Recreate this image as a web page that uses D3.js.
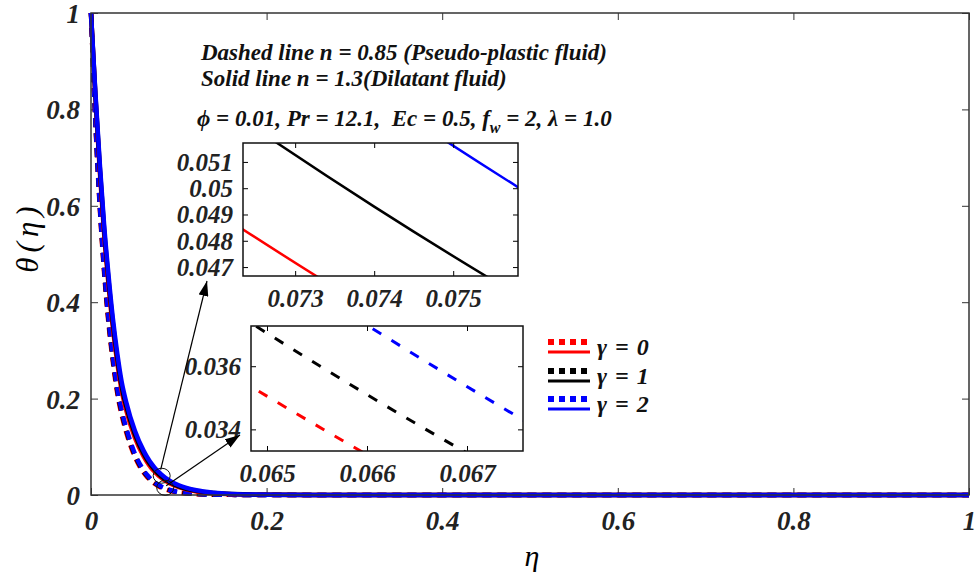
<!DOCTYPE html>
<html>
<head>
<meta charset="utf-8">
<script src="https://cdn.jsdelivr.net/npm/d3@7/dist/d3.min.js"></script>
<style>
  body { margin: 0; background: #fff; }
  .lbl { font-weight: bold; font-style: italic; fill: #222; }
</style>
</head>
<body>
<svg id="chart" width="978" height="579"></svg>
<script>
// eta grid shared by all curves
const eta = [0, 0.005, 0.01, 0.015, 0.02, 0.025, 0.03, 0.035, 0.04, 0.05, 0.06,
  0.064, 0.066, 0.068, 0.072, 0.074, 0.076, 0.08, 0.09, 0.1, 0.12, 0.14, 0.16,
  0.2, 0.3, 0.5, 1.0];

// solid lines, n = 1.3
const solidG0 = [1, 0.825, 0.672, 0.541, 0.435, 0.345, 0.2735, 0.216, 0.1767, 0.119, 0.0799,
  0.0677, 0.0624, 0.0576, 0.0491, 0.0453, 0.0418, 0.0356, 0.0237, 0.0161, 0.0074, 0.0034, 0.0016,
  0.0004, 0.0001, 0, 0];
const solidG1 = [1, 0.83, 0.68, 0.55, 0.445, 0.355, 0.283, 0.225, 0.185, 0.126, 0.0855,
  0.0728, 0.0673, 0.0622, 0.0533, 0.0493, 0.0456, 0.039, 0.0263, 0.018, 0.0085, 0.004, 0.0019,
  0.0005, 0.0001, 0, 0];
const solidG2 = [1, 0.835, 0.688, 0.559, 0.455, 0.365, 0.293, 0.234, 0.1935, 0.1333, 0.0915,
  0.0783, 0.0725, 0.0672, 0.0578, 0.0536, 0.0497, 0.0427, 0.0291, 0.0202, 0.0097, 0.0047, 0.0023,
  0.0006, 0.0001, 0, 0];

// dashed lines, n = 0.85
const dashG0 = [1, 0.772, 0.595, 0.459, 0.354, 0.274, 0.2095, 0.165, 0.1304, 0.0786, 0.0461,
  0.037, 0.0332, 0.0297, 0.0239, 0.0214, 0.0191, 0.0153, 0.0089, 0.0052, 0.0018, 0.0006, 0.0003,
  0, 0, 0, 0];
const dashG1 = [1, 0.775, 0.6, 0.465, 0.36, 0.28, 0.215, 0.17, 0.135, 0.082, 0.0485,
  0.0391, 0.0351, 0.0315, 0.0254, 0.0228, 0.0204, 0.0164, 0.0096, 0.0057, 0.002, 0.0007, 0.0003,
  0, 0, 0, 0];
const dashG2 = [1, 0.779, 0.605, 0.471, 0.367, 0.2865, 0.221, 0.1755, 0.14, 0.0858, 0.0512,
  0.0414, 0.0373, 0.0335, 0.0271, 0.0244, 0.0219, 0.0176, 0.0104, 0.0062, 0.0022, 0.0008, 0.0003,
  0.0001, 0, 0, 0];

const gammaLabels = ["γ = 0", "γ = 1", "γ = 2"];
const colors = ["#ff0000", "#000000", "#0000ff"];

const xTicks = [0, 0.2, 0.4, 0.6, 0.8, 1];
const xTickLabels = ["0", "0.2", "0.4", "0.6", "0.8", "1"];
const yTicks = [0, 0.2, 0.4, 0.6, 0.8, 1];
const yTickLabels = ["0", "0.2", "0.4", "0.6", "0.8", "1"];

const inset1XTicks = [0.073, 0.074, 0.075];
const inset1YTicks = [0.047, 0.048, 0.049, 0.05, 0.051];
const inset1YLabels = ["0.047", "0.048", "0.049", "0.05", "0.051"];
const inset2XTicks = [0.065, 0.066, 0.067];
const inset2YTicks = [0.034, 0.036];

const FONT = "Liberation Serif";

const svg = d3.select("#chart").attr("font-family", FONT);

// main plot box
const margin = {left: 91, top: 13, right: 969, bottom: 495};
const x = d3.scaleLinear().domain([0, 1]).range([margin.left, margin.right]);
const y = d3.scaleLinear().domain([0, 1]).range([margin.bottom, margin.top]);

const dashed = [dashG0, dashG1, dashG2];
const solid = [solidG0, solidG1, solidG2];

function drawLines(g, xs, ys, width, dash) {
  const line = d3.line()
    .x((d, i) => xs(eta[i]))
    .y(d => ys(d))
    .curve(d3.curveMonotoneX);
  dashed.forEach((vals, k) => {
    g.append("path").attr("d", line(vals)).attr("fill", "none")
      .attr("stroke", colors[k]).attr("stroke-width", width)
      .attr("stroke-dasharray", dash);
  });
  solid.forEach((vals, k) => {
    g.append("path").attr("d", line(vals)).attr("fill", "none")
      .attr("stroke", colors[k]).attr("stroke-width", width);
  });
}

// x axis
const xAxis = svg.append("g")
  .attr("transform", "translate(0," + margin.bottom + ")")
  .call(d3.axisBottom(x).tickValues(xTicks).tickSize(-7)
    .tickFormat((d, i) => xTickLabels[i]));
xAxis.attr("font-family", FONT);
xAxis.select(".domain").remove();
xAxis.selectAll("line").attr("stroke", "#333");
xAxis.selectAll("text").attr("class", "lbl").attr("y", 35).attr("dy", null)
  .attr("font-size", 27);

// mirrored ticks on top
svg.append("g")
  .attr("transform", "translate(0," + margin.top + ")")
  .call(d3.axisTop(x).tickValues(xTicks).tickSize(-7).tickFormat(""))
  .call(g => g.select(".domain").remove())
  .selectAll("line").attr("stroke", "#333");

// y axis
const yAxis = svg.append("g")
  .attr("transform", "translate(" + margin.left + ",0)")
  .call(d3.axisLeft(y).tickValues(yTicks).tickSize(-7).tickPadding(11)
    .tickFormat((d, i) => yTickLabels[i]));
yAxis.attr("font-family", FONT);
yAxis.select(".domain").remove();
yAxis.selectAll("line").attr("stroke", "#333");
yAxis.selectAll("text").attr("class", "lbl").attr("dy", "0.35em")
  .attr("font-size", 27);

svg.append("g")
  .attr("transform", "translate(" + margin.right + ",0)")
  .call(d3.axisRight(y).tickValues(yTicks).tickSize(-7).tickFormat(""))
  .call(g => g.select(".domain").remove())
  .selectAll("line").attr("stroke", "#333");

// curves
const mainG = svg.append("g");
drawLines(mainG, x, y, 4.5, "9,6");

// frame
svg.append("rect")
  .attr("x", margin.left).attr("y", margin.top)
  .attr("width", margin.right - margin.left).attr("height", margin.bottom - margin.top)
  .attr("fill", "none").attr("stroke", "#333").attr("stroke-width", 1.5);

// axis titles
svg.append("text").attr("x", 532).attr("y", 566).attr("text-anchor", "middle")
  .attr("font-style", "italic").attr("font-size", 30).text("η");
svg.append("text").attr("transform", "translate(38,237) rotate(-90)")
  .attr("text-anchor", "middle").attr("font-style", "italic")
  .attr("font-size", 31).attr("letter-spacing", 5).text("θ(η)");

// annotation text
const note = svg.append("g").attr("class", "lbl").attr("font-size", 23).style("fill", "#111");
note.append("text").attr("x", 201).attr("y", 60).text("Dashed line n = 0.85 (Pseudo-plastic fluid)");
note.append("text").attr("x", 201).attr("y", 86).text("Solid line n = 1.3(Dilatant fluid)");
const t3 = note.append("text").attr("x", 197).attr("y", 126).attr("xml:space", "preserve");
t3.append("tspan").text("ϕ = 0.01, Pr = 12.1,  Ec = 0.5, f");
t3.append("tspan").attr("dy", 7).attr("font-size", 16).text("w");
t3.append("tspan").attr("dy", -7).text(" = 2, λ = 1.0");

// insets
function drawInset(id, box, xDom, yDom, xT, yT, yLabels, useDash) {
  const xs = d3.scaleLinear().domain(xDom).range([box.x0, box.x1]);
  const ys = d3.scaleLinear().domain(yDom).range([box.y1, box.y0]);
  const g = svg.append("g");
  g.append("rect").attr("x", box.x0).attr("y", box.y0)
    .attr("width", box.x1 - box.x0).attr("height", box.y1 - box.y0).attr("fill", "#fff");
  svg.append("clipPath").attr("id", id).append("rect")
    .attr("x", box.x0).attr("y", box.y0)
    .attr("width", box.x1 - box.x0).attr("height", box.y1 - box.y0);
  const lg = g.append("g").attr("clip-path", "url(#" + id + ")");
  const line = d3.line().x((d, i) => xs(eta[i])).y(d => ys(d)).curve(d3.curveMonotoneX);
  const sets = useDash ? dashed : solid;
  sets.forEach((vals, k) => {
    lg.append("path").attr("d", line(vals)).attr("fill", "none")
      .attr("stroke", colors[k]).attr("stroke-width", useDash ? 3 : 2.5)
      .attr("stroke-dasharray", useDash ? "10,12" : null);
  });
  const bx = g.append("g").attr("transform", "translate(0," + box.y1 + ")")
    .call(d3.axisBottom(xs).tickValues(xT).tickSize(-5).tickFormat(d3.format(".3f")));
  bx.attr("font-family", FONT);
  bx.select(".domain").remove();
  bx.selectAll("text").attr("class", "lbl").attr("y", 31).attr("dy", null).attr("font-size", 25);
  g.append("g").attr("transform", "translate(0," + box.y0 + ")")
    .call(d3.axisTop(xs).tickValues(xT).tickSize(-5).tickFormat(""))
    .select(".domain").remove();
  const ly = g.append("g").attr("transform", "translate(" + box.x0 + ",0)")
    .call(d3.axisLeft(ys).tickValues(yT).tickSize(-5).tickPadding(10)
      .tickFormat((d, i) => yLabels ? yLabels[i] : d3.format(".3f")(d)));
  ly.attr("font-family", FONT);
  ly.select(".domain").remove();
  ly.selectAll("text").attr("class", "lbl").attr("dy", "0.33em").attr("font-size", 25);
  g.append("g").attr("transform", "translate(" + box.x1 + ",0)")
    .call(d3.axisRight(ys).tickValues(yT).tickSize(-5).tickFormat(""))
    .select(".domain").remove();
  g.append("rect").attr("x", box.x0).attr("y", box.y0)
    .attr("width", box.x1 - box.x0).attr("height", box.y1 - box.y0)
    .attr("fill", "none").attr("stroke", "#111").attr("stroke-width", 1.5);
}

drawInset("clip1", {x0: 243, x1: 518, y0: 143, y1: 276},
  [0.07234, 0.07582], [0.04666, 0.05172], inset1XTicks, inset1YTicks, inset1YLabels, false);
drawInset("clip2", {x0: 251, x1: 523, y0: 326, y1: 451},
  [0.06484, 0.06756], [0.033315, 0.037273], inset2XTicks, inset2YTicks, null, true);

// legend
const leg = svg.append("g");
const legRows = [348, 377, 405];
gammaLabels.forEach((lab, k) => {
  const yy = legRows[k];
  leg.append("line").attr("x1", 548).attr("x2", 590).attr("y1", yy - 6).attr("y2", yy - 6)
    .attr("stroke", colors[k]).attr("stroke-width", 6).attr("stroke-dasharray", "6,5");
  leg.append("line").attr("x1", 548).attr("x2", 590).attr("y1", yy + 4).attr("y2", yy + 4)
    .attr("stroke", colors[k]).attr("stroke-width", 3);
  leg.append("text").attr("x", 597).attr("y", yy + 7).attr("class", "lbl")
    .attr("font-size", 24).attr("letter-spacing", 1).style("fill", "#111").text(lab);
});

// zoom markers and arrows
const defs = svg.append("defs");
defs.append("marker").attr("id", "arrow").attr("markerUnits", "userSpaceOnUse")
  .attr("markerWidth", 16).attr("markerHeight", 10).attr("refX", 15).attr("refY", 5)
  .attr("orient", "auto")
  .append("path").attr("d", "M0,0 L15,5 L0,10 z").attr("fill", "#000");

const circ1 = [0.0805, 0.040];
const circ2 = [0.0845, 0.015];
[circ1, circ2].forEach(c => {
  svg.append("ellipse").attr("cx", x(c[0])).attr("cy", y(c[1]))
    .attr("rx", 8.5).attr("ry", 7.5).attr("fill", "none").attr("stroke", "#111").attr("stroke-width", 1);
});
svg.append("line").attr("x1", x(circ1[0]) - 1).attr("y1", y(circ1[1]) - 6)
  .attr("x2", 207).attr("y2", 281).attr("stroke", "#000").attr("stroke-width", 1.2)
  .attr("marker-end", "url(#arrow)");
svg.append("line").attr("x1", x(circ2[0]) + 1).attr("y1", y(circ2[1]) - 2)
  .attr("x2", 240).attr("y2", 435).attr("stroke", "#000").attr("stroke-width", 1.2)
  .attr("marker-end", "url(#arrow)");
</script>
</body>
</html>
